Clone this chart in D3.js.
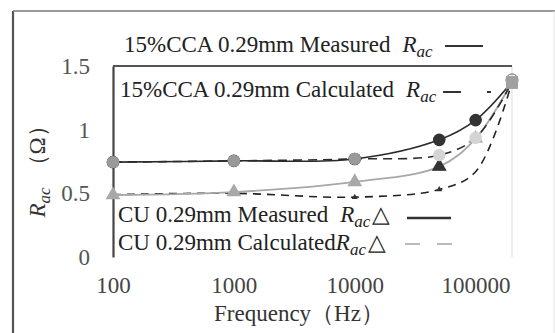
<!DOCTYPE html>
<html>
<head>
<meta charset="utf-8">
<script src="https://cdn.jsdelivr.net/npm/d3@7"></script>
<style>
  html, body { margin: 0; padding: 0; background: #fff; }
  svg { display: block; }
  svg text { font-family: "Liberation Serif", serif; }
</style>
</head>
<body>
<svg id="chart" width="555" height="333"></svg>
<script>
// Frequency points (Hz) and AC resistance (Ω) per wire
const freqs = [100, 1000, 10000, 50000, 100000, 200000];
const ccaMeasured   = [0.745, 0.755, 0.77, 0.92, 1.075, 1.375];
const ccaCalculated = [0.745, 0.755, 0.77, 0.80, 0.935, 1.375];
const cuMeasured    = [0.487, 0.51, 0.59, 0.71, 0.93, 1.375];
const cuCalculated  = [0.49, 0.50, 0.47, 0.53, 0.67, 1.375];

const xTicks = [100, 1000, 10000, 100000];
const yTicks = [0, 0.5, 1, 1.5];

const svg = d3.select("#chart");
const FS = 23;
const SERIF = "'Liberation Serif', serif";

const x = d3.scaleLog().domain([100, 200000]).range([113, 512]);
const y = d3.scaleLinear().domain([0, 1.5]).range([257, 66]);

// outer frame
svg.append("line").attr("x1", 13).attr("x2", 13).attr("y1", 11).attr("y2", 333)
  .attr("stroke", "#555").attr("stroke-width", 2.2);
svg.append("line").attr("x1", 13).attr("x2", 555).attr("y1", 11).attr("y2", 11)
  .attr("stroke", "#777").attr("stroke-width", 1.5);
svg.append("line").attr("x1", 554).attr("x2", 554).attr("y1", 11).attr("y2", 333)
  .attr("stroke", "#e4e4e4").attr("stroke-width", 1);

// faint right edge of plot area
svg.append("line").attr("x1", x(200000)).attr("x2", x(200000))
  .attr("y1", y(1.5)).attr("y2", y(0))
  .attr("stroke", "#e8e8e8").attr("stroke-width", 1.5);

// top border of plot (1.5 line)
svg.append("line").attr("x1", x(100)).attr("x2", x(200000))
  .attr("y1", y(1.5)).attr("y2", y(1.5))
  .attr("stroke", "#555").attr("stroke-width", 2);

// y axis
const yAxis = svg.append("g").attr("transform", `translate(${x(100)},0)`)
  .call(d3.axisLeft(y).tickValues(yTicks).tickFormat(d3.format("")).tickSize(0).tickPadding(23));
yAxis.attr("font-family", null).attr("font-size", null);
yAxis.select(".domain").attr("stroke", "#444").attr("stroke-width", 2.2);
yAxis.selectAll("text").style("font-size", FS + "px").style("font-family", SERIF).attr("fill", "#555");

// x axis labels
const xAxis = svg.append("g").attr("transform", `translate(0,${y(0)})`)
  .call(d3.axisBottom(x).tickValues(xTicks).tickFormat(d3.format("d")).tickSize(0).tickPadding(20));
xAxis.attr("font-family", null).attr("font-size", null);
xAxis.select(".domain").remove();
xAxis.selectAll("text").style("font-size", FS + "px").style("font-family", SERIF).attr("fill", "#444");

// axis titles
svg.append("text").attr("x", 299).attr("y", 321).attr("text-anchor", "middle")
  .style("font-size", FS + "px").style("font-family", SERIF).attr("fill", "#333")
  .text("Frequency（Hz）");

const yt = svg.append("text").attr("transform", "translate(45,166) rotate(-90)")
  .attr("text-anchor", "middle").style("font-size", FS + "px").style("font-family", SERIF)
  .attr("fill", "#333");
yt.append("tspan").attr("font-style", "italic").text("R");
yt.append("tspan").attr("font-style", "italic").style("font-size", "17px").attr("dy", 5).text("ac");
yt.append("tspan").attr("dy", -5).attr("dx", 10).text("（Ω）");

// series lines
const series = [
  { values: cuCalculated, stroke: "#222", dash: "8,6", width: 1.6 },
  { values: cuMeasured, stroke: "#a8a8a8", dash: null, width: 1.8 },
  { values: ccaMeasured, stroke: "#2a2a2a", dash: null, width: 1.6 },
  { values: ccaCalculated, stroke: "#2a2a2a", dash: "9,6", width: 1.6 }
];

const line = d3.line()
  .x((d, i) => x(freqs[i]))
  .y(d => y(d))
  .curve(d3.curveCatmullRom.alpha(0.5));

series.forEach(s => {
  svg.append("path").datum(s.values)
    .attr("d", line)
    .attr("fill", "none")
    .attr("stroke", s.stroke)
    .attr("stroke-width", s.width)
    .attr("stroke-dasharray", s.dash);
});

// markers
function markers(values, shape, size, fill) {
  svg.append("g").selectAll("path").data(values.slice(0, -1)).join("path")
    .attr("transform", (d, i) => `translate(${x(freqs[i])},${y(d)})`)
    .attr("d", d3.symbol().type(shape).size(size)())
    .attr("fill", fill);
}
markers(cuCalculated.slice(1), d3.symbolTriangle, 0, "none");
svg.append("g").selectAll("path").data(cuCalculated.slice(2, -2)).join("path")
  .attr("transform", (d, i) => `translate(${x(freqs[i + 2])},${y(d)})`)
  .attr("d", d3.symbol().type(d3.symbolTriangle).size(16)())
  .attr("fill", "#333");
markers(cuMeasured, d3.symbolTriangle, 95, "#a8a8a8");
svg.append("path")
  .attr("transform", `translate(${x(freqs[3])},${y(cuMeasured[3])})`)
  .attr("d", d3.symbol().type(d3.symbolTriangle).size(95)())
  .attr("fill", "#333");
markers(ccaMeasured, d3.symbolCircle, 125, "#333");
svg.append("g").selectAll("circle").data(ccaCalculated.slice(0, -1)).join("circle")
  .attr("cx", (d, i) => x(freqs[i])).attr("cy", d => y(d)).attr("r", 6.2)
  .attr("fill", (d, i) => i < 3 ? "#9a9a9a" : "#d4d4d4");

// shared end point
const last = freqs.length - 1;
svg.append("circle").attr("cx", x(freqs[last])).attr("cy", y(ccaMeasured[last]) - 2)
  .attr("r", 6).attr("fill", "none").attr("stroke", "#666").attr("stroke-width", 1);
svg.append("rect").attr("x", x(freqs[last]) - 6).attr("y", y(cuMeasured[last]) - 6)
  .attr("width", 12).attr("height", 13).attr("fill", "#a0a0a0");

// legend entries
function legendText(xPos, yPos, label, gap, tail) {
  const t = svg.append("text").attr("x", xPos).attr("y", yPos)
    .style("font-size", FS + "px").style("font-family", SERIF).attr("fill", "#222");
  t.append("tspan").text(label);
  t.append("tspan").attr("dx", gap).attr("font-style", "italic").text("R");
  t.append("tspan").attr("font-style", "italic").style("font-size", "17px").attr("dy", 5).text("ac");
  if (tail) t.append("tspan").attr("dy", -5).attr("dx", 2).text(tail);
}
legendText(124, 52, "15%CCA 0.29mm Measured", 12, null);
legendText(120, 97, "15%CCA 0.29mm Calculated", 12, null);
legendText(118, 222, "CU 0.29mm Measured", 12, "△");
legendText(118, 250, "CU 0.29mm Calculated", 0, "△");

svg.append("line").attr("x1", 445).attr("x2", 483).attr("y1", 46).attr("y2", 46)
  .attr("stroke", "#333").attr("stroke-width", 2);
svg.append("line").attr("x1", 443).attr("x2", 491).attr("y1", 92).attr("y2", 92)
  .attr("stroke", "#333").attr("stroke-width", 2).attr("stroke-dasharray", "18,26,4");
svg.append("line").attr("x1", 407).attr("x2", 451).attr("y1", 218).attr("y2", 218)
  .attr("stroke", "#333").attr("stroke-width", 2.5);
svg.append("line").attr("x1", 405).attr("x2", 454).attr("y1", 244).attr("y2", 244)
  .attr("stroke", "#bbb").attr("stroke-width", 2).attr("stroke-dasharray", "15,17");
</script>
</body>
</html>
